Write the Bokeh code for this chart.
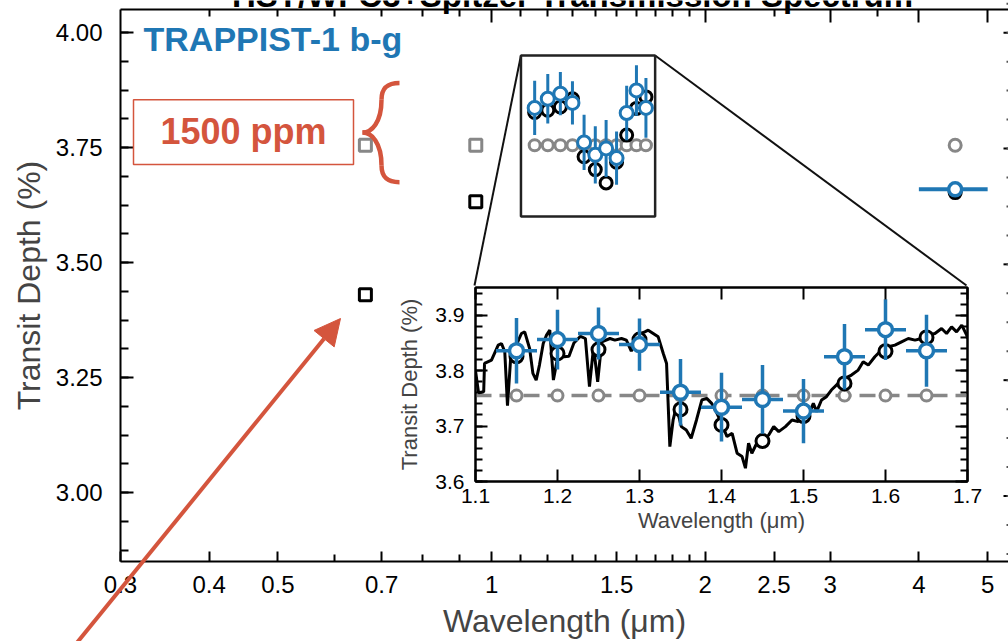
import numpy as np
from bokeh.plotting import figure
from bokeh.layouts import column
from bokeh.models import (FixedTicker, LinearAxis, LogAxis, Label, Arrow, NormalHead,
                          BoxAnnotation, PrintfTickFormatter, Range1d)
from bokeh.embed import file_html
from bokeh.resources import INLINE

# ---------------- data ----------------
wfc3_wl = [1.15, 1.20, 1.25, 1.30, 1.35, 1.40, 1.45, 1.50, 1.55, 1.60, 1.65]
wfc3_halfwidth = 0.025
wfc3_depth = [3.836, 3.856, 3.867, 3.847, 3.761, 3.734, 3.748, 3.727, 3.825, 3.874, 3.836]
wfc3_err = [0.059, 0.054, 0.047, 0.047, 0.060, 0.062, 0.062, 0.058, 0.059, 0.055, 0.065]
model_binned = [3.826, 3.831, 3.838, 3.856, 3.730, 3.702, 3.673, 3.718, 3.777, 3.835, 3.860]
flat_depth = 3.755

spitzer_wl = [4.5]
spitzer_halfwidth = 0.5
spitzer_depth = [3.659]
spitzer_err = [0.008]
spitzer_model = [3.652]
spitzer_flat = [3.755]

opt_wl = [0.664, 0.950]
opt_model = [3.430, 3.632]
opt_flat = [3.755, 3.755]

model_wl = [1.100, 1.1037, 1.110, 1.111, 1.1195, 1.1277, 1.1317, 1.1357, 1.139, 1.143, 1.148,
            1.156, 1.160, 1.166, 1.170, 1.174, 1.178, 1.1826, 1.1866, 1.1906, 1.195, 1.1988,
            1.2029, 1.208, 1.214, 1.220, 1.228, 1.234, 1.239, 1.244, 1.249, 1.254, 1.264,
            1.270, 1.278, 1.284, 1.290, 1.296, 1.3065, 1.3106, 1.3167, 1.3228, 1.329, 1.333,
            1.337, 1.341, 1.345, 1.351, 1.357, 1.363, 1.3695, 1.376, 1.382, 1.388, 1.3945,
            1.400, 1.4067, 1.413, 1.419, 1.4251, 1.4292, 1.433, 1.437, 1.443, 1.4515, 1.4576,
            1.4637, 1.4698, 1.478, 1.486, 1.4935, 1.5016, 1.5078, 1.512, 1.516, 1.522, 1.528,
            1.534, 1.5423, 1.5504, 1.5585, 1.5667, 1.5728, 1.579, 1.587, 1.5951, 1.6033,
            1.6115, 1.6196, 1.6278, 1.636, 1.644, 1.652, 1.6603, 1.6684, 1.6745, 1.6806,
            1.6867, 1.693, 1.699, 1.700]
model_depth = [3.800, 3.760, 3.762, 3.813, 3.819, 3.846, 3.849, 3.834, 3.737, 3.825, 3.840,
               3.867, 3.870, 3.840, 3.795, 3.783, 3.810, 3.849, 3.864, 3.873, 3.783, 3.813,
               3.840, 3.825, 3.826, 3.850, 3.862, 3.858, 3.771, 3.843, 3.780, 3.852, 3.858,
               3.855, 3.858, 3.855, 3.835, 3.864, 3.870, 3.873, 3.867, 3.861, 3.831, 3.813,
               3.663, 3.711, 3.735, 3.699, 3.693, 3.678, 3.711, 3.747, 3.750, 3.741, 3.723,
               3.705, 3.681, 3.687, 3.651, 3.645, 3.624, 3.669, 3.651, 3.669, 3.675, 3.684,
               3.699, 3.690, 3.699, 3.711, 3.708, 3.723, 3.726, 3.741, 3.726, 3.747, 3.753,
               3.765, 3.777, 3.786, 3.792, 3.801, 3.816, 3.810, 3.825, 3.837, 3.843,
               3.846, 3.852, 3.858, 3.855, 3.858, 3.864, 3.867, 3.876, 3.867, 3.879,
               3.870, 3.882, 3.864, 3.858]

x_tick_values = [0.3, 0.4, 0.5, 0.7, 1, 1.5, 2, 2.5, 3, 4, 5]
x_tick_labels = ["0.3", "0.4", "0.5", "0.7", "1", "1.5", "2", "2.5", "3", "4", "5"]
x_minor_ticks = [0.6, 0.8, 0.9, 1.1, 1.2, 1.3, 1.4, 1.6, 1.7, 1.8, 1.9]
top_major = [1, 2, 3, 4, 5]
top_minor = [0.4, 0.5, 0.6, 0.7, 0.8, 0.9, 1.1, 1.2, 1.3, 1.4, 1.5, 1.6, 1.7, 1.8, 1.9, 2.5, 3.5]
y_ticks = [3.00, 3.25, 3.50, 3.75, 4.00]
inset_x_ticks = [1.1, 1.2, 1.3, 1.4, 1.5, 1.6, 1.7]
inset_y_ticks = [3.6, 3.7, 3.8, 3.9]

# ---------------- styles ----------------
BLUE = "#1f77b4"
GRAY = "#878787"
RED = "#d4553d"
FONT = "Liberation Sans"
W, H = 1008, 641

X0, X1 = 0.3, 5.35
Y0, Y1 = 2.85, 4.05
FL, FR, FT, FB = 120, 1008, 9, 565


def px_x(px):
    lo, hi = np.log10(X0), np.log10(X1)
    return float(10 ** (lo + (px - FL) / (FR - FL) * (hi - lo)))


def px_y(py):
    return float(Y1 - (py - FT) / (FB - FT) * (Y1 - Y0))


def y_px(v):
    return FT + (Y1 - v) / (Y1 - Y0) * (FB - FT)


def no_align(fig):
    try:
        fig.frame_align = False
    except Exception:
        pass


p = figure(width=W, height=H, x_axis_type="log", x_range=(X0, X1), y_range=(Y0, Y1),
           output_backend="svg", toolbar_location=None,
           min_border_left=FL, min_border_right=W - FR, min_border_top=FT, min_border_bottom=H - FB)
no_align(p)
p.grid.visible = False
p.outline_line_color = None
p.background_fill_color = "white"
p.border_fill_color = "white"


def style_axis(ax, tin, minin, labels=True, fs="24px", standoff=8):
    ax.axis_line_color = "black"
    ax.axis_line_width = 2
    ax.major_tick_in = tin
    ax.major_tick_out = 0
    ax.minor_tick_in = minin
    ax.minor_tick_out = 0
    ax.major_tick_line_width = 2
    ax.minor_tick_line_width = 2
    ax.major_tick_line_color = "black"
    ax.minor_tick_line_color = "black"
    if labels:
        ax.major_label_text_font = FONT
        ax.major_label_text_font_size = fs
        ax.major_label_text_color = "black"
        ax.major_label_standoff = standoff
    else:
        ax.major_label_text_font_size = "1px"
        ax.major_label_text_color = None
        ax.major_label_standoff = 0


xa = p.xaxis[0]
xa.ticker = FixedTicker(ticks=x_tick_values, minor_ticks=x_minor_ticks)
xa.major_label_overrides = {v: l for v, l in zip(x_tick_values, x_tick_labels)}
style_axis(xa, 10, 7, standoff=14)
xa.axis_label = "Wavelength (μm)"
xa.axis_label_text_font = FONT
xa.axis_label_text_font_size = "32px"
xa.axis_label_text_font_style = "normal"
xa.axis_label_standoff = 7

ya = p.yaxis[0]
y_minor = [round(Y0 + 0.025 + 0.0625 * i, 4) for i in range(20)]
ya.ticker = FixedTicker(ticks=y_ticks, minor_ticks=y_minor)
ya.formatter = PrintfTickFormatter(format="%.2f")
style_axis(ya, 13, 8, standoff=18)
ya.axis_label = "Transit Depth (%)"
ya.axis_label_text_font = FONT
ya.axis_label_text_font_size = "32px"
ya.axis_label_text_font_style = "normal"
ya.axis_label_standoff = 6

top = LogAxis(ticker=FixedTicker(ticks=top_major, minor_ticks=top_minor))
style_axis(top, 13, 7, labels=False)
p.add_layout(top, "above")

# ---------- main data ----------
wl = np.array(wfc3_wl)
dep = np.array(wfc3_depth)
err = np.array(wfc3_err)

p.scatter(opt_wl, opt_flat, marker="square", size=12, line_width=3, line_color=GRAY, fill_color="white")
p.scatter(opt_wl, opt_model, marker="square", size=12, line_width=3, line_color="black", fill_color="white")

p.scatter(wfc3_wl, [flat_depth] * len(wfc3_wl), size=11, line_width=3, line_color=GRAY, fill_color="white")
p.scatter(wfc3_wl, model_binned, size=12, line_width=3, line_color="black", fill_color="white")
p.segment(wl, dep - err, wl, dep + err, line_color=BLUE, line_width=3)
p.segment(wl - wfc3_halfwidth, dep, wl + wfc3_halfwidth, dep, line_color=BLUE, line_width=3)
p.scatter(wfc3_wl, wfc3_depth, size=13, line_width=3, line_color=BLUE, fill_color="white")

sw = np.array(spitzer_wl)
sd = np.array(spitzer_depth)
se = np.array(spitzer_err)
p.scatter(spitzer_wl, spitzer_flat, size=12, line_width=3, line_color=GRAY, fill_color="white")
p.scatter(spitzer_wl, spitzer_model, size=12, line_width=3, line_color="black", fill_color="white")
p.segment(sw - spitzer_halfwidth, sd, sw + spitzer_halfwidth, sd, line_color=BLUE, line_width=4)
p.segment(sw, sd - se, sw, sd + se, line_color=BLUE, line_width=4)
p.scatter(spitzer_wl, spitzer_depth, size=13, line_width=3.5, line_color=BLUE, fill_color="white")

# zoom box and connectors
IN_L, IN_T, IN_R, IN_B = 474, 287, 966, 481
IX0, IX1 = inset_x_ticks[0], inset_x_ticks[-1]
IY0, IY1 = 3.6, 3.95
p.add_layout(BoxAnnotation(left=IX0, right=IX1, bottom=IY0, top=IY1, fill_alpha=0,
                           line_color="#222222", line_alpha=1, line_width=2.5))
p.segment([IX0, IX1], [IY1, IY1], [px_x(IN_L), px_x(IN_R)], [px_y(IN_T), px_y(IN_T)],
          line_color="#111111", line_width=2)

# annotations (alphabetic baseline renders lower in svg; positions compensated)
p.add_layout(Label(x=px_x(143), y=px_y(39), text="TRAPPIST-1 b-g", text_align="left",
                   text_baseline="alphabetic", text_font=FONT, text_font_size="34px",
                   text_font_style="bold", text_color=BLUE))
p.add_layout(BoxAnnotation(left=px_x(133), right=px_x(353), top=px_y(100), bottom=px_y(165),
                           fill_alpha=0, line_color=RED, line_alpha=1, line_width=1.5))
p.add_layout(Label(x=px_x(243), y=px_y(132), text="1500 ppm", text_align="center",
                   text_baseline="alphabetic", text_font=FONT, text_font_size="36px",
                   text_font_style="bold", text_color=RED))
bx0, bxm, bx1 = 362, 381, 399
by0, bym, by1 = 83, 133, 183
p.bezier(x0=[px_x(bx1), px_x(bxm), px_x(bx0), px_x(bxm)],
         y0=[px_y(by0), px_y(by0 + 17), px_y(bym), px_y(by1 - 17)],
         x1=[px_x(bxm), px_x(bx0), px_x(bxm), px_x(bx1)],
         y1=[px_y(by0 + 17), px_y(bym), px_y(by1 - 17), px_y(by1)],
         cx0=[px_x(bx1 - 12), px_x(bxm), px_x(bx0 + 9), px_x(bxm)],
         cy0=[px_y(by0), px_y(bym - 10), px_y(bym), px_y(by1 - 5)],
         cx1=[px_x(bxm), px_x(bx0 + 9), px_x(bxm), px_x(bx1 - 12)],
         cy1=[px_y(by0 + 5), px_y(bym), px_y(bym + 10), px_y(by1)],
         line_color=RED, line_width=4.5)

# ---------------- overlay (pixel space, for items outside the frame) ----------------
ov = figure(width=W, height=H, x_range=Range1d(0, W), y_range=Range1d(H, 0),
            x_axis_location=None, y_axis_location=None, min_border=0,
            output_backend="svg", toolbar_location=None)
no_align(ov)
ov.grid.visible = False
ov.outline_line_color = None
ov.background_fill_alpha = 0
ov.border_fill_alpha = 0
ov.margin = (-H, 0, 0, 0)
ov.add_layout(Label(x=572, y=-5, text="HST/WFC3+Spitzer Transmission Spectrum",
                    text_align="center", text_baseline="alphabetic", text_font=FONT,
                    text_font_size="33px", text_font_style="bold", text_color="black"))
ov.add_layout(Arrow(end=NormalHead(size=26, fill_color=RED, line_color=RED),
                    x_start=62, y_start=660, x_end=340, y_end=318,
                    line_color=RED, line_width=4))
ov.segment([FR - 5] * len(y_ticks), [y_px(v) for v in y_ticks], [FR] * len(y_ticks),
           [y_px(v) for v in y_ticks], line_color="black", line_width=2)
ov.segment([FR - 2] * len(y_minor), [y_px(v) for v in y_minor], [FR] * len(y_minor),
           [y_px(v) for v in y_minor], line_color="#555555", line_width=2)

# ---------------- inset ----------------
BL, BT, BR, BB = 80, 20, 20, 60
ins = figure(frame_width=IN_R - IN_L, frame_height=IN_B - IN_T, x_range=(IX0, IX1), y_range=(IY0, IY1),
             output_backend="svg", toolbar_location=None,
             min_border_left=BL, min_border_top=BT, min_border_right=BR, min_border_bottom=BB)
no_align(ins)
ins.grid.visible = False
ins.outline_line_color = "black"
ins.outline_line_width = 2
ins.background_fill_color = "white"
ins.border_fill_alpha = 0
ins.margin = (IN_T - BT - H, 0, 0, IN_L - BL)

iy_minor = [round(3.6 + 0.02 * i, 3) for i in range(18)]
ixa = ins.xaxis[0]
ixa.ticker = FixedTicker(ticks=inset_x_ticks, minor_ticks=[])
ixa.formatter = PrintfTickFormatter(format="%.1f")
style_axis(ixa, 12, 0, fs="21px", standoff=7)
ixa.axis_label = "Wavelength (μm)"
ixa.axis_label_text_font = FONT
ixa.axis_label_text_font_size = "22px"
ixa.axis_label_text_font_style = "normal"
ixa.axis_label_standoff = 2
iya = ins.yaxis[0]
iya.ticker = FixedTicker(ticks=inset_y_ticks, minor_ticks=iy_minor)
iya.formatter = PrintfTickFormatter(format="%.1f")
style_axis(iya, 12, 7, fs="21px", standoff=11)
iya.axis_label = "Transit Depth (%)"
iya.axis_label_text_font = FONT
iya.axis_label_text_font_size = "22px"
iya.axis_label_text_font_style = "normal"
iya.axis_label_standoff = 10
itop = LinearAxis(ticker=FixedTicker(ticks=inset_x_ticks, minor_ticks=[]))
style_axis(itop, 12, 0, labels=False)
ins.add_layout(itop, "above")
iright = LinearAxis(ticker=FixedTicker(ticks=inset_y_ticks, minor_ticks=iy_minor))
style_axis(iright, 12, 7, labels=False)
ins.add_layout(iright, "right")

ins.line([IX0, IX1], [flat_depth, flat_depth], line_color=GRAY, line_width=3.5, line_dash="16 8")
ins.line(model_wl, model_depth, line_color="black", line_width=3)
ins.scatter(wfc3_wl, [flat_depth] * len(wfc3_wl), size=11, line_width=3, line_color=GRAY, fill_color="white")
ins.scatter(wfc3_wl, model_binned, size=13, line_width=3, line_color="black", fill_color="white")
ins.segment(wl, dep - err, wl, dep + err, line_color=BLUE, line_width=3.5)
ins.segment(wl - wfc3_halfwidth, dep, wl + wfc3_halfwidth, dep, line_color=BLUE, line_width=3.5)
ins.scatter(wfc3_wl, wfc3_depth, size=14, line_width=3.5, line_color=BLUE, fill_color="white")

layout = column(p, ov, ins)
open("out.html", "w").write(file_html(layout, INLINE))
